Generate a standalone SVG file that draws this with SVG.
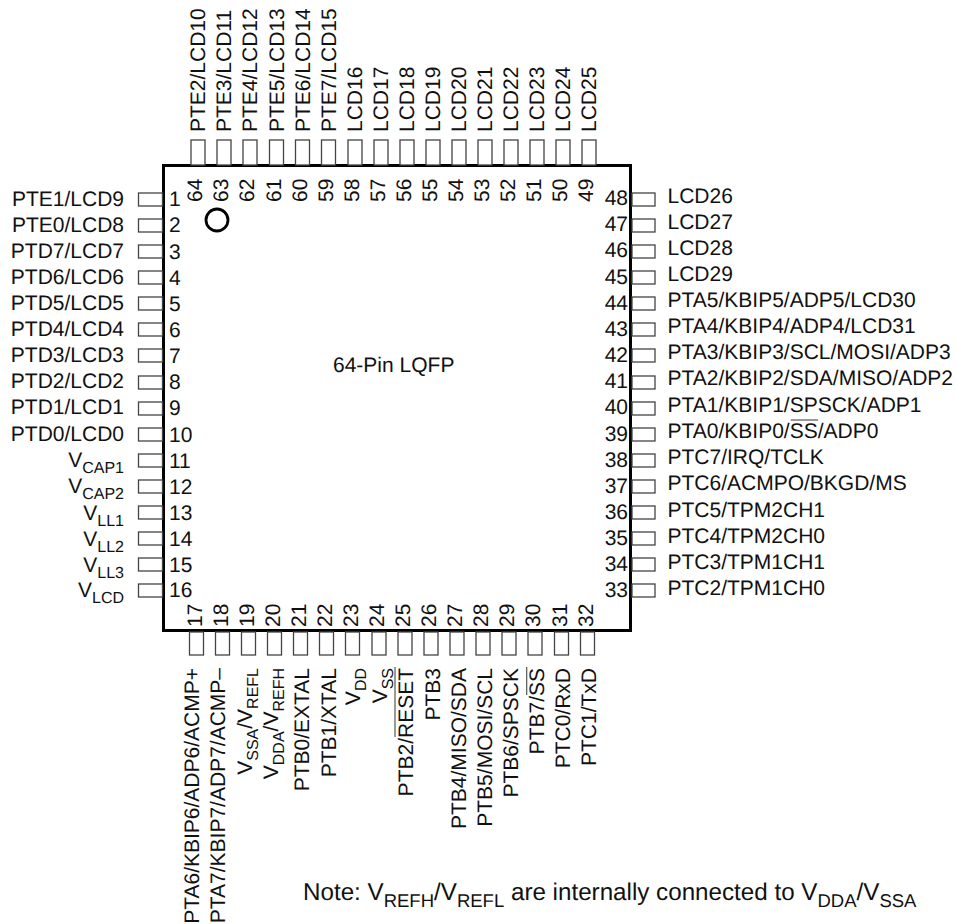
<svg xmlns="http://www.w3.org/2000/svg" width="957" height="924" viewBox="0 0 957 924">
<style>
text{font-family:"Liberation Sans",Arial,sans-serif;font-size:21px;fill:#111;text-rendering:geometricPrecision}
.e{text-anchor:end}
.s{font-size:16px}
.n{font-size:24.2px}
.ns{font-size:18.5px}
.pin{fill:#fff;stroke:#444;stroke-width:1.3}
.ov{stroke:#555;stroke-width:1.2;fill:none}
</style>
<rect width="957" height="924" fill="#fff"/>
<g id="chip"><rect x="163.5" y="165.5" width="467" height="465" fill="#fff" stroke="#000" stroke-width="3"/><circle cx="217" cy="220" r="11" fill="none" stroke="#000" stroke-width="2.8"/><text x="333" y="372">64-Pin LQFP</text></g>
<g id="pin1"><rect class="pin" x="138.5" y="193" width="24" height="13"/><text x="169" y="206">1</text><text class="e" x="124" y="206">PTE1/LCD9</text></g>
<g id="pin2"><rect class="pin" x="138.5" y="219" width="24" height="13"/><text x="169" y="232">2</text><text class="e" x="124" y="232">PTE0/LCD8</text></g>
<g id="pin3"><rect class="pin" x="138.5" y="245" width="24" height="13"/><text x="169" y="258.5">3</text><text class="e" x="124" y="257.5">PTD7/LCD7</text></g>
<g id="pin4"><rect class="pin" x="138.5" y="271" width="24" height="13"/><text x="169" y="284.5">4</text><text class="e" x="124" y="283.5">PTD6/LCD6</text></g>
<g id="pin5"><rect class="pin" x="138.5" y="297" width="24" height="13"/><text x="169" y="310.5">5</text><text class="e" x="124" y="310">PTD5/LCD5</text></g>
<g id="pin6"><rect class="pin" x="138.5" y="323" width="24" height="13"/><text x="169" y="336.5">6</text><text class="e" x="124" y="336">PTD4/LCD4</text></g>
<g id="pin7"><rect class="pin" x="138.5" y="349" width="24" height="13"/><text x="169" y="362.5">7</text><text class="e" x="124" y="362">PTD3/LCD3</text></g>
<g id="pin8"><rect class="pin" x="138.5" y="376" width="24" height="13"/><text x="169" y="389">8</text><text class="e" x="124" y="388">PTD2/LCD2</text></g>
<g id="pin9"><rect class="pin" x="138.5" y="402" width="24" height="13"/><text x="169" y="415">9</text><text class="e" x="124" y="414">PTD1/LCD1</text></g>
<g id="pin10"><rect class="pin" x="138.5" y="428" width="24" height="13"/><text x="169" y="441.5">10</text><text class="e" x="124" y="440.5">PTD0/LCD0</text></g>
<g id="pin11"><rect class="pin" x="138.5" y="454" width="24" height="13"/><text x="169" y="467.5">11</text><text class="e" x="124" y="467">V<tspan class="s" dy="6">CAP1</tspan></text></g>
<g id="pin12"><rect class="pin" x="138.5" y="480" width="24" height="13"/><text x="169" y="494">12</text><text class="e" x="124" y="493">V<tspan class="s" dy="6">CAP2</tspan></text></g>
<g id="pin13"><rect class="pin" x="138.5" y="506" width="24" height="13"/><text x="169" y="520">13</text><text class="e" x="124" y="519.5">V<tspan class="s" dy="6">LL1</tspan></text></g>
<g id="pin14"><rect class="pin" x="138.5" y="532" width="24" height="13"/><text x="169" y="546">14</text><text class="e" x="124" y="545.5">V<tspan class="s" dy="6">LL2</tspan></text></g>
<g id="pin15"><rect class="pin" x="138.5" y="558" width="24" height="13"/><text x="169" y="571.5">15</text><text class="e" x="124" y="572">V<tspan class="s" dy="6">LL3</tspan></text></g>
<g id="pin16"><rect class="pin" x="138.5" y="584" width="24" height="13"/><text x="169" y="597">16</text><text class="e" x="124" y="597">V<tspan class="s" dy="6">LCD</tspan></text></g>
<g id="pin17"><rect class="pin" x="189.5" y="632" width="14" height="23"/><text transform="translate(201.5,627) rotate(-90)">17</text><text class="e" transform="translate(199,668) rotate(-90)">PTA6/KBIP6/ADP6/ACMP+</text></g>
<g id="pin18"><rect class="pin" x="215.5" y="632" width="14" height="23"/><text transform="translate(227.5,627) rotate(-90)">18</text><text class="e" transform="translate(225,668) rotate(-90)">PTA7/KBIP7/ADP7/ACMP–</text></g>
<g id="pin19"><rect class="pin" x="241.5" y="632" width="14" height="23"/><text transform="translate(253.5,627) rotate(-90)">19</text><text class="e" transform="translate(252,668) rotate(-90)">V<tspan class="s" dy="6">SSA</tspan><tspan dy="-6">/V</tspan><tspan class="s" dy="6">REFL</tspan></text></g>
<g id="pin20"><rect class="pin" x="267.5" y="632" width="14" height="23"/><text transform="translate(279.5,627) rotate(-90)">20</text><text class="e" transform="translate(278,668) rotate(-90)">V<tspan class="s" dy="6">DDA</tspan><tspan dy="-6">/V</tspan><tspan class="s" dy="6">REFH</tspan></text></g>
<g id="pin21"><rect class="pin" x="293.5" y="632" width="14" height="23"/><text transform="translate(305.5,627) rotate(-90)">21</text><text class="e" transform="translate(309,668) rotate(-90)">PTB0/EXTAL</text></g>
<g id="pin22"><rect class="pin" x="319.5" y="632" width="14" height="23"/><text transform="translate(331.5,627) rotate(-90)">22</text><text class="e" transform="translate(336,668) rotate(-90)">PTB1/XTAL</text></g>
<g id="pin23"><rect class="pin" x="345.5" y="632" width="14" height="23"/><text transform="translate(357.5,627) rotate(-90)">23</text><text class="e" transform="translate(360,668) rotate(-90)">V<tspan class="s" dy="6">DD</tspan></text></g>
<g id="pin24"><rect class="pin" x="372" y="632" width="14" height="23"/><text transform="translate(384,627) rotate(-90)">24</text><text class="e" transform="translate(387,668) rotate(-90)">V<tspan class="s" dy="6">SS</tspan></text></g>
<g id="pin25"><rect class="pin" x="398" y="632" width="14" height="23"/><text transform="translate(410,627) rotate(-90)">25</text><text class="e" transform="translate(413,668) rotate(-90)">PTB2/RESET</text><line class="ov" x1="395" y1="667" x2="395" y2="737"/></g>
<g id="pin26"><rect class="pin" x="424" y="632" width="14" height="23"/><text transform="translate(436,627) rotate(-90)">26</text><text class="e" transform="translate(440,668) rotate(-90)">PTB3</text></g>
<g id="pin27"><rect class="pin" x="450" y="632" width="14" height="23"/><text transform="translate(462,627) rotate(-90)">27</text><text class="e" transform="translate(466,668) rotate(-90)">PTB4/MISO/SDA</text></g>
<g id="pin28"><rect class="pin" x="476" y="632" width="14" height="23"/><text transform="translate(488,627) rotate(-90)">28</text><text class="e" transform="translate(492,668) rotate(-90)">PTB5/MOSI/SCL</text></g>
<g id="pin29"><rect class="pin" x="502" y="632" width="14" height="23"/><text transform="translate(514,627) rotate(-90)">29</text><text class="e" transform="translate(518,668) rotate(-90)">PTB6/SPSCK</text></g>
<g id="pin30"><rect class="pin" x="528" y="632" width="14" height="23"/><text transform="translate(540,627) rotate(-90)">30</text><text class="e" transform="translate(544,668) rotate(-90)">PTB7/SS</text><line class="ov" x1="526.7" y1="667" x2="526.7" y2="695"/></g>
<g id="pin31"><rect class="pin" x="554.5" y="632" width="14" height="23"/><text transform="translate(566.5,627) rotate(-90)">31</text><text class="e" transform="translate(570,668) rotate(-90)">PTC0/RxD</text></g>
<g id="pin32"><rect class="pin" x="580.5" y="632" width="14" height="23"/><text transform="translate(592.5,627) rotate(-90)">32</text><text class="e" transform="translate(596,668) rotate(-90)">PTC1/TxD</text></g>
<g id="pin33"><rect class="pin" x="632" y="584" width="23" height="13"/><text class="e" x="628" y="597">33</text><text x="667.5" y="594.5">PTC2/TPM1CH0</text></g>
<g id="pin34"><rect class="pin" x="632" y="558" width="23" height="13"/><text class="e" x="628" y="571">34</text><text x="667.5" y="568.5">PTC3/TPM1CH1</text></g>
<g id="pin35"><rect class="pin" x="632" y="532" width="23" height="13"/><text class="e" x="628" y="545">35</text><text x="667.5" y="542.5">PTC4/TPM2CH0</text></g>
<g id="pin36"><rect class="pin" x="632" y="506" width="23" height="13"/><text class="e" x="628" y="519">36</text><text x="667.5" y="516.5">PTC5/TPM2CH1</text></g>
<g id="pin37"><rect class="pin" x="632" y="480" width="23" height="13"/><text class="e" x="628" y="492.5">37</text><text x="667.5" y="490">PTC6/ACMPO/BKGD/MS</text></g>
<g id="pin38"><rect class="pin" x="632" y="454" width="23" height="13"/><text class="e" x="628" y="466.5">38</text><text x="667.5" y="464">PTC7/IRQ/TCLK</text></g>
<g id="pin39"><rect class="pin" x="632" y="428" width="23" height="13"/><text class="e" x="628" y="440.5">39</text><text x="667.5" y="437.5">PTA0/KBIP0/SS/ADP0</text><line class="ov" x1="790.7" y1="420" x2="818" y2="420"/></g>
<g id="pin40"><rect class="pin" x="632" y="402" width="23" height="13"/><text class="e" x="628" y="414">40</text><text x="667.5" y="411.5">PTA1/KBIP1/SPSCK/ADP1</text></g>
<g id="pin41"><rect class="pin" x="632" y="376" width="23" height="13"/><text class="e" x="628" y="388">41</text><text x="667.5" y="385">PTA2/KBIP2/SDA/MISO/ADP2</text></g>
<g id="pin42"><rect class="pin" x="632" y="349" width="23" height="13"/><text class="e" x="628" y="362">42</text><text x="667.5" y="359">PTA3/KBIP3/SCL/MOSI/ADP3</text></g>
<g id="pin43"><rect class="pin" x="632" y="323" width="23" height="13"/><text class="e" x="628" y="336">43</text><text x="667.5" y="333">PTA4/KBIP4/ADP4/LCD31</text></g>
<g id="pin44"><rect class="pin" x="632" y="297" width="23" height="13"/><text class="e" x="628" y="310">44</text><text x="667.5" y="307">PTA5/KBIP5/ADP5/LCD30</text></g>
<g id="pin45"><rect class="pin" x="632" y="271" width="23" height="13"/><text class="e" x="628" y="283.5">45</text><text x="667.5" y="281">LCD29</text></g>
<g id="pin46"><rect class="pin" x="632" y="245" width="23" height="13"/><text class="e" x="628" y="257">46</text><text x="667.5" y="255">LCD28</text></g>
<g id="pin47"><rect class="pin" x="632" y="219" width="23" height="13"/><text class="e" x="628" y="231">47</text><text x="667.5" y="229">LCD27</text></g>
<g id="pin48"><rect class="pin" x="632" y="193" width="23" height="13"/><text class="e" x="628" y="205">48</text><text x="667.5" y="203">LCD26</text></g>
<g id="pin49"><rect class="pin" x="582" y="140" width="14" height="25"/><text transform="translate(593,202) rotate(-90)">49</text><text transform="translate(596,132) rotate(-90)">LCD25</text></g>
<g id="pin50"><rect class="pin" x="556" y="140" width="14" height="25"/><text transform="translate(567,202) rotate(-90)">50</text><text transform="translate(570,132) rotate(-90)">LCD24</text></g>
<g id="pin51"><rect class="pin" x="530" y="140" width="14" height="25"/><text transform="translate(541,202) rotate(-90)">51</text><text transform="translate(544,132) rotate(-90)">LCD23</text></g>
<g id="pin52"><rect class="pin" x="504" y="140" width="14" height="25"/><text transform="translate(515,202) rotate(-90)">52</text><text transform="translate(518,132) rotate(-90)">LCD22</text></g>
<g id="pin53"><rect class="pin" x="478" y="140" width="14" height="25"/><text transform="translate(489,202) rotate(-90)">53</text><text transform="translate(492,132) rotate(-90)">LCD21</text></g>
<g id="pin54"><rect class="pin" x="452" y="140" width="14" height="25"/><text transform="translate(463,202) rotate(-90)">54</text><text transform="translate(466,132) rotate(-90)">LCD20</text></g>
<g id="pin55"><rect class="pin" x="426" y="140" width="14" height="25"/><text transform="translate(437,202) rotate(-90)">55</text><text transform="translate(440,132) rotate(-90)">LCD19</text></g>
<g id="pin56"><rect class="pin" x="400" y="140" width="14" height="25"/><text transform="translate(411,202) rotate(-90)">56</text><text transform="translate(414,132) rotate(-90)">LCD18</text></g>
<g id="pin57"><rect class="pin" x="374" y="140" width="14" height="25"/><text transform="translate(385,202) rotate(-90)">57</text><text transform="translate(388,132) rotate(-90)">LCD17</text></g>
<g id="pin58"><rect class="pin" x="348" y="140" width="14" height="25"/><text transform="translate(359,202) rotate(-90)">58</text><text transform="translate(362,132) rotate(-90)">LCD16</text></g>
<g id="pin59"><rect class="pin" x="321.5" y="140" width="14" height="25"/><text transform="translate(332.5,202) rotate(-90)">59</text><text transform="translate(335.5,132) rotate(-90)">PTE7/LCD15</text></g>
<g id="pin60"><rect class="pin" x="295.5" y="140" width="14" height="25"/><text transform="translate(306.5,202) rotate(-90)">60</text><text transform="translate(309.5,132) rotate(-90)">PTE6/LCD14</text></g>
<g id="pin61"><rect class="pin" x="269.5" y="140" width="14" height="25"/><text transform="translate(280.5,202) rotate(-90)">61</text><text transform="translate(283.5,132) rotate(-90)">PTE5/LCD13</text></g>
<g id="pin62"><rect class="pin" x="243" y="140" width="14" height="25"/><text transform="translate(254,202) rotate(-90)">62</text><text transform="translate(257,132) rotate(-90)">PTE4/LCD12</text></g>
<g id="pin63"><rect class="pin" x="217" y="140" width="14" height="25"/><text transform="translate(228,202) rotate(-90)">63</text><text transform="translate(231,132) rotate(-90)">PTE3/LCD11</text></g>
<g id="pin64"><rect class="pin" x="191" y="140" width="14" height="25"/><text transform="translate(202,202) rotate(-90)">64</text><text transform="translate(205,132) rotate(-90)">PTE2/LCD10</text></g>
<g id="note"><text class="n" x="303" y="900">Note: V<tspan class="ns" dy="6.5">REFH</tspan><tspan dy="-6.5">/V</tspan><tspan class="ns" dy="6.5">REFL</tspan><tspan dy="-6.5"> are internally connected to V</tspan><tspan class="ns" dy="6.5">DDA</tspan><tspan dy="-6.5">/V</tspan><tspan class="ns" dy="6.5">SSA</tspan></text></g>
<g id="connectors"></g>
</svg>
